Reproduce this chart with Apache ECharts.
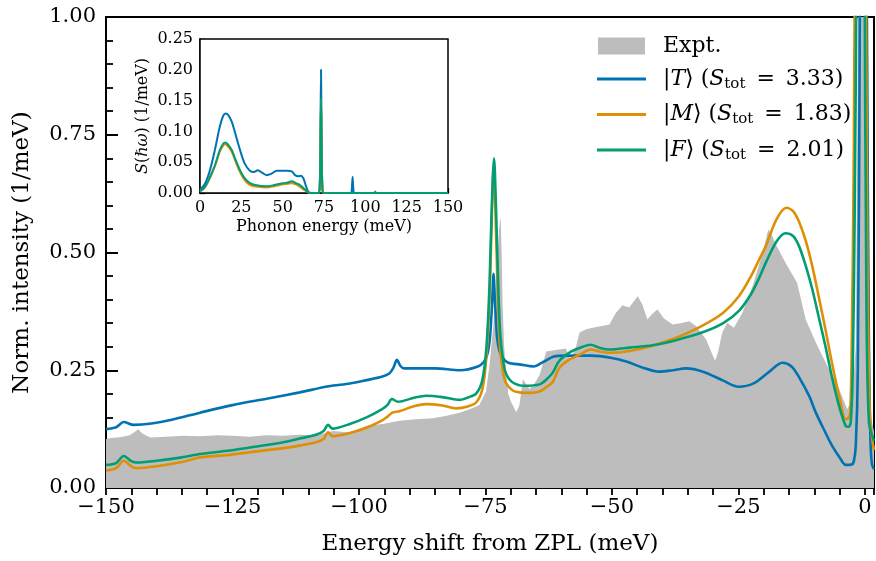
<!DOCTYPE html>
<html>
<head>
<meta charset="utf-8">
<script src="https://cdn.jsdelivr.net/npm/echarts@6/dist/echarts.min.js"></script>
<style>
  html, body { margin: 0; padding: 0; background: #fff; }
  #chart { width: 876px; height: 561px; }
</style>
</head>
<body>
<div id="chart"></div>
<script>
// Measured photoluminescence sideband, [energy shift (meV), normalised intensity (1/meV)]
const exptSpectrum = [
  [-150, 0.104], [-149, 0.106], [-147.2, 0.108], [-145.3, 0.112], [-143.6, 0.125], [-142.9, 0.116],
  [-141.3, 0.107], [-138.2, 0.109], [-134.7, 0.111], [-131.4, 0.110], [-128, 0.112], [-124.9, 0.111],
  [-121.5, 0.109], [-118.4, 0.112], [-115, 0.111], [-111.7, 0.113], [-108.5, 0.112], [-105.1, 0.121],
  [-101.8, 0.118], [-98.5, 0.132], [-95.3, 0.136], [-92.0, 0.143], [-88.8, 0.146], [-85.4, 0.148],
  [-82.9, 0.153], [-80.1, 0.160], [-77.5, 0.170], [-76.2, 0.176], [-74.9, 0.205], [-74.2, 0.260],
  [-73.4, 0.350], [-72.8, 0.450], [-72.3, 0.550], [-72.0, 0.577], [-71.8, 0.500], [-71.6, 0.386],
  [-71.3, 0.300], [-70.9, 0.245], [-70.5, 0.200], [-69.9, 0.182], [-68.9, 0.161], [-68.3, 0.175],
  [-67.6, 0.231], [-66.9, 0.220], [-66.3, 0.210], [-65.3, 0.222], [-64.3, 0.240], [-63.7, 0.262],
  [-63.0, 0.290], [-61.2, 0.293], [-59.1, 0.296], [-58.2, 0.273], [-57.1, 0.300], [-56.4, 0.330],
  [-55.1, 0.337], [-53.8, 0.340], [-50.5, 0.347], [-49.2, 0.372], [-47.9, 0.388], [-46.6, 0.383],
  [-44.9, 0.407], [-44.0, 0.390], [-43.0, 0.358], [-42.0, 0.370], [-41.0, 0.379], [-39.7, 0.360],
  [-38.0, 0.347], [-36.5, 0.350], [-34.7, 0.354], [-33.4, 0.344], [-31.4, 0.316], [-30.4, 0.290],
  [-29.6, 0.270], [-29.0, 0.290], [-28.2, 0.330], [-27.2, 0.351], [-25.9, 0.340], [-24.2, 0.372],
  [-22.2, 0.429], [-20.2, 0.499], [-19.1, 0.549], [-18.5, 0.540], [-17.6, 0.517], [-15.7, 0.478],
  [-13.4, 0.436], [-11.7, 0.358], [-9.7, 0.309], [-7.1, 0.252], [-5.1, 0.210], [-3.5, 0.167],
  [-2.5, 0.189], [-1.8, 0.300], [-1.2, 1.200], [-0.4, 2.000], [0.2, 2.000], [0.8, 0.500],
  [1.2, 0.150], [1.8, 0.120]
];

// Computed spectrum for |T>
const spectrumT = [
  [-150, 0.125], [-148, 0.129], [-146.5, 0.140], [-144.5, 0.134], [-141, 0.137], [-137, 0.145],
  [-131.4, 0.160], [-125, 0.176], [-118, 0.190], [-111.7, 0.203], [-106, 0.216], [-101.8, 0.222],
  [-98.5, 0.229], [-95.5, 0.236], [-94, 0.243], [-93.2, 0.255], [-92.5, 0.272], [-91.8, 0.259],
  [-91.1, 0.254], [-88, 0.254], [-85, 0.254], [-80, 0.250], [-76.5, 0.258], [-75.3, 0.268],
  [-74.6, 0.285], [-74.1, 0.320], [-73.7, 0.390], [-73.4, 0.455], [-73.1, 0.390], [-72.7, 0.320],
  [-72.2, 0.290], [-71.5, 0.275], [-70.5, 0.266], [-68, 0.262], [-65.5, 0.258], [-63.5, 0.268],
  [-61.5, 0.279], [-59, 0.281], [-57, 0.281], [-54, 0.281], [-50, 0.276], [-47, 0.268],
  [-44, 0.256], [-40.7, 0.247], [-38, 0.250], [-35.4, 0.254], [-32, 0.247], [-28, 0.228],
  [-25, 0.215], [-22, 0.222], [-19, 0.246], [-16.3, 0.266], [-14.5, 0.258], [-13, 0.235],
  [-11, 0.195], [-9.7, 0.160], [-8, 0.122], [-6.5, 0.090], [-5, 0.065], [-3.8, 0.049],
  [-2.6, 0.050], [-2.2, 0.056], [-1.8, 0.090], [-1.4, 0.250], [-1.0, 1.000], [-0.3, 3.000],
  [0.4, 1.000], [0.8, 0.300], [1.1, 0.100], [1.4, 0.050], [1.8, 0.040]
];

// Computed spectrum for |M>
const spectrumM = [
  [-150, 0.037], [-148, 0.042], [-146.5, 0.058], [-145, 0.046], [-144, 0.042], [-140, 0.046],
  [-135, 0.055], [-131.4, 0.065], [-126, 0.070], [-121.6, 0.076], [-116, 0.083], [-111.7, 0.090],
  [-108.5, 0.097], [-107, 0.104], [-106.1, 0.118], [-105.2, 0.110], [-101.8, 0.117], [-98.5, 0.128],
  [-95.5, 0.143], [-94.3, 0.152], [-93.4, 0.160], [-92, 0.163], [-89, 0.174], [-86.7, 0.178],
  [-83.5, 0.175], [-80.8, 0.169], [-78.5, 0.173], [-76.8, 0.182], [-75.6, 0.210], [-74.8, 0.280],
  [-74.2, 0.400], [-73.8, 0.550], [-73.4, 0.680], [-73.0, 0.580], [-72.6, 0.420], [-72.2, 0.310],
  [-71.6, 0.250], [-70.9, 0.222], [-69.6, 0.207], [-68.3, 0.203], [-66, 0.202], [-64.3, 0.205],
  [-63, 0.214], [-61.7, 0.225], [-60.4, 0.255], [-58.5, 0.272], [-56.4, 0.283], [-54.2, 0.294],
  [-52.5, 0.290], [-50.5, 0.287], [-46.5, 0.291], [-42, 0.302], [-37, 0.320], [-32.2, 0.344],
  [-28, 0.372], [-24.9, 0.407], [-22.5, 0.450], [-20.9, 0.485], [-19.6, 0.513], [-17.5, 0.570],
  [-15.5, 0.595], [-14.2, 0.588], [-13, 0.565], [-11.7, 0.525], [-10.4, 0.471], [-9.1, 0.405],
  [-7.8, 0.337], [-6.5, 0.265], [-5.1, 0.196], [-3.8, 0.146], [-3.3, 0.148], [-2.9, 0.160],
  [-2.6, 0.300], [-2.2, 0.700], [-1.8, 1.500], [-1.0, 3.000], [0, 1.500], [0.5, 0.500],
  [1.0, 0.150], [1.8, 0.080]
];

// Computed spectrum for |F>
const spectrumF = [
  [-150, 0.049], [-148, 0.053], [-146.5, 0.068], [-145, 0.057], [-144, 0.054], [-140, 0.058],
  [-135, 0.065], [-131.4, 0.072], [-126, 0.079], [-121.6, 0.086], [-116, 0.095], [-111.7, 0.105],
  [-108.5, 0.113], [-107, 0.121], [-106.1, 0.134], [-105.2, 0.126], [-101.8, 0.136], [-98.5, 0.150],
  [-95.5, 0.167], [-94.4, 0.176], [-93.5, 0.189], [-92.3, 0.183], [-89, 0.192], [-86.7, 0.196],
  [-83.5, 0.193], [-80.1, 0.187], [-78.5, 0.192], [-76.8, 0.201], [-75.6, 0.230], [-74.8, 0.300],
  [-74.2, 0.430], [-73.8, 0.580], [-73.3, 0.700], [-72.9, 0.590], [-72.5, 0.440], [-72.1, 0.330],
  [-71.5, 0.270], [-70.9, 0.242], [-69.6, 0.224], [-67.3, 0.217], [-64.3, 0.220], [-62.8, 0.232],
  [-61.7, 0.245], [-60.4, 0.270], [-58, 0.290], [-56, 0.299], [-54.2, 0.304], [-52.5, 0.298],
  [-50.5, 0.294], [-46.5, 0.298], [-42, 0.303], [-37, 0.315], [-32.2, 0.330], [-28, 0.350],
  [-24.9, 0.376], [-22.5, 0.412], [-20.9, 0.446], [-19.6, 0.478], [-17.5, 0.523], [-15.7, 0.541],
  [-14.2, 0.535], [-13, 0.513], [-11.7, 0.472], [-10.4, 0.422], [-9.1, 0.362], [-7.8, 0.301],
  [-6.5, 0.235], [-5.1, 0.174], [-3.8, 0.132], [-3.2, 0.130], [-2.8, 0.140], [-2.4, 0.250],
  [-2.0, 0.600], [-1.6, 1.200], [-0.8, 3.000], [-0.1, 1.200], [0.3, 0.400], [0.8, 0.140],
  [1.8, 0.100]
];

// Spectral densities S(hbar omega), [phonon energy (meV), 1/meV]
const densityT = [
  [0, 0.005], [3, 0.015], [6, 0.037], [9, 0.070], [12, 0.108], [14, 0.125], [15.5, 0.129],
  [17, 0.127], [19.2, 0.116], [21.5, 0.095], [24.2, 0.070], [27, 0.048], [30.2, 0.036],
  [32.5, 0.034], [35, 0.037], [37.5, 0.033], [40.3, 0.029], [43, 0.031], [46.4, 0.036],
  [50, 0.036], [52.4, 0.036], [55.5, 0.035], [57.5, 0.029], [59.5, 0.027], [61, 0.028],
  [62.5, 0.024], [64, 0.012], [65.5, 0.002], [67, 0], [71.6, 0], [72.4, 0.010], [72.8, 0.080],
  [73.2, 0.200], [73.6, 0.080], [74.0, 0.010], [74.8, 0], [91.2, 0], [91.8, 0.005], [92.3, 0.026],
  [92.8, 0.005], [93.4, 0], [150, 0]
];
const densityM = [
  [0, 0.002], [3, 0.009], [6, 0.024], [9, 0.043], [12, 0.067], [14, 0.077], [15.2, 0.079],
  [16.5, 0.077], [19.2, 0.067], [21.5, 0.051], [24.2, 0.034], [27, 0.021], [30.2, 0.013],
  [35, 0.010], [40.3, 0.009], [45, 0.011], [50.4, 0.014], [53, 0.015], [55.5, 0.016],
  [58, 0.014], [60.5, 0.010], [63, 0.005], [65.5, 0.001], [67, 0], [71.6, 0], [72.4, 0.010],
  [72.8, 0.070], [73.2, 0.150], [73.6, 0.070], [74.0, 0.010], [74.8, 0], [105.5, 0],
  [106, 0.002], [106.5, 0], [150, 0]
];
const densityF = [
  [0, 0.003], [3, 0.010], [6, 0.026], [9, 0.045], [12, 0.070], [14, 0.080], [15.2, 0.082],
  [16.5, 0.080], [19.2, 0.070], [21.5, 0.054], [24.2, 0.037], [27, 0.024], [30.2, 0.016],
  [35, 0.012], [40.3, 0.011], [45, 0.013], [50.4, 0.016], [53, 0.017], [55.5, 0.019],
  [58, 0.016], [60.5, 0.013], [63, 0.007], [65.5, 0.001], [67, 0], [71.6, 0], [72.4, 0.010],
  [72.8, 0.070], [73.2, 0.155], [73.6, 0.070], [74.0, 0.010], [74.8, 0], [105.5, 0],
  [106, 0.002], [106.5, 0], [150, 0]
];

const stateNames = ['T', 'M', 'F'];
const stateTotals = ['3.33', '1.83', '2.01'];
const stateColors = ['#0173B2', '#DE8F05', '#029E73'];
const exptColor = '#bdbdbd';

const SERIF = 'DejaVu Serif';
const minus = v => String(v).replace('-', '\u2212');

const chart = echarts.init(document.getElementById('chart'), null, { renderer: 'canvas' });

const option = {
  animation: false,
  backgroundColor: '#fff',
  grid: [
    { left: 106, top: 17, right: 2, bottom: 72, show: true, borderColor: '#000', borderWidth: 2, backgroundColor: 'transparent' },
    { left: 200, top: 39, width: 248, height: 154, show: true, borderColor: '#000', borderWidth: 1.5, backgroundColor: '#fff', z: 5 }
  ],
  legend: [
    {
      data: ['Expt.'],
      left: 598, top: 35, padding: 0,
      icon: 'rect', itemWidth: 47, itemHeight: 17,
      textStyle: { fontFamily: SERIF, fontSize: 22, color: '#000', padding: [0, 0, 0, 13] },
      selectedMode: false
    },
    {
      data: stateNames,
      orient: 'vertical',
      left: 597, top: 68, itemGap: 12, padding: 0,
      icon: 'rect', itemWidth: 49, itemHeight: 3,
      selectedMode: false,
      formatter: name => {
        const i = stateNames.indexOf(name);
        return '|{it|' + name + '}\u27E9 ({it|S}{sub|tot}\u2002=\u2002' + stateTotals[i] + ')';
      },
      textStyle: {
        fontFamily: SERIF, fontSize: 22, color: '#000', padding: [0, 0, 0, 12],
        rich: {
          it: { fontFamily: SERIF, fontSize: 22, fontStyle: 'italic', color: '#000' },
          sub: { fontFamily: SERIF, fontSize: 15, color: '#000', padding: [10, 0, 0, 0] }
        }
      }
    }
  ],
  xAxis: [
    {
      gridIndex: 0, type: 'value', min: -150, max: 1.8, interval: 25,
      name: 'Energy shift from ZPL (meV)', nameLocation: 'middle', nameGap: 45,
      nameTextStyle: { fontFamily: SERIF, fontSize: 23, color: '#000' },
      axisLine: { show: true, onZero: false, lineStyle: { color: '#000', width: 2 } },
      axisTick: { show: true, inside: true, length: 12, lineStyle: { color: '#000', width: 2 } },
      axisLabel: {
        fontFamily: SERIF, fontSize: 21, color: '#000', margin: 9, showMaxLabel: false,
        formatter: v => (v % 25 === 0 ? minus(v) : '')
      },
      splitLine: { show: false }
    },
    {
      // minor ticks, every 5 meV
      gridIndex: 0, type: 'value', min: -150, max: 1.8, interval: 5,
      axisLine: { show: false },
      axisTick: { show: true, inside: true, length: 7, lineStyle: { color: '#000', width: 1.8 } },
      axisLabel: { show: false },
      splitLine: { show: false }
    },
    {
      gridIndex: 1, type: 'value', min: 0, max: 150, interval: 25,
      name: 'Phonon energy (meV)', nameLocation: 'middle', nameGap: 26,
      nameTextStyle: { fontFamily: SERIF, fontSize: 16, color: '#000' },
      axisLine: { show: true, onZero: false, lineStyle: { color: '#000', width: 1.5 } },
      axisTick: { show: true, inside: true, length: 5, lineStyle: { color: '#000', width: 1.3 } },
      minorTick: { show: true, splitNumber: 5, length: 3, lineStyle: { color: '#000', width: 1 } },
      axisLabel: { fontFamily: SERIF, fontSize: 16, color: '#000', margin: 7 },
      splitLine: { show: false }, minorSplitLine: { show: false }
    }
  ],
  yAxis: [
    {
      gridIndex: 0, type: 'value', min: 0, max: 1, interval: 0.25,
      name: 'Norm. intensity (1/meV)', nameLocation: 'middle', nameGap: 72,
      nameTextStyle: { fontFamily: SERIF, fontSize: 23, color: '#000' },
      axisLine: { show: true, onZero: false, lineStyle: { color: '#000', width: 2 } },
      axisTick: { show: true, inside: true, length: 12, lineStyle: { color: '#000', width: 2 } },
      minorTick: { show: true, splitNumber: 5, length: 7, lineStyle: { color: '#000', width: 1.8 } },
      axisLabel: { fontFamily: SERIF, fontSize: 21, color: '#000', margin: 10, formatter: v => v.toFixed(2) },
      splitLine: { show: false }, minorSplitLine: { show: false }
    },
    {
      gridIndex: 1, type: 'value', min: 0, max: 0.25, interval: 0.05,
      name: '{i|S}({i|\u210F\u03C9}) (1/meV)', nameLocation: 'middle', nameGap: 49,
      nameTextStyle: {
        fontFamily: SERIF, fontSize: 16, color: '#000',
        rich: { i: { fontFamily: SERIF, fontSize: 16, fontStyle: 'italic', color: '#000' } }
      },
      axisLine: { show: true, onZero: false, lineStyle: { color: '#000', width: 1.5 } },
      axisTick: { show: true, inside: true, length: 5, lineStyle: { color: '#000', width: 1.3 } },
      minorTick: { show: true, splitNumber: 5, length: 3, lineStyle: { color: '#000', width: 1 } },
      axisLabel: { fontFamily: SERIF, fontSize: 16, color: '#000', margin: 7, formatter: v => v.toFixed(2) },
      splitLine: { show: false }, minorSplitLine: { show: false }
    }
  ],
  series: [
    {
      name: 'Expt.', type: 'line', xAxisIndex: 0, yAxisIndex: 0,
      data: exptSpectrum, symbol: 'none', showSymbol: false,
      color: exptColor, itemStyle: { color: exptColor },
      lineStyle: { width: 0, color: exptColor },
      areaStyle: { color: exptColor, opacity: 1 },
      z: 1
    },
    ...[spectrumT, spectrumM, spectrumF].map((d, i) => ({
      name: stateNames[i], type: 'line', xAxisIndex: 0, yAxisIndex: 0,
      data: d, symbol: 'none', showSymbol: false, smooth: 0.3,
      color: stateColors[i], itemStyle: { color: stateColors[i] },
      lineStyle: { width: 2.6, color: stateColors[i] },
      z: 2 + i
    })),
    ...[densityT, densityM, densityF].map((d, i) => ({
      name: stateNames[i], type: 'line', xAxisIndex: 2, yAxisIndex: 1,
      data: d, symbol: 'none', showSymbol: false, smooth: 0.3,
      color: stateColors[i], itemStyle: { color: stateColors[i] },
      lineStyle: { width: 2, color: stateColors[i] },
      z: 6 + i
    }))
  ]
};

chart.setOption(option);
</script>
</body>
</html>
